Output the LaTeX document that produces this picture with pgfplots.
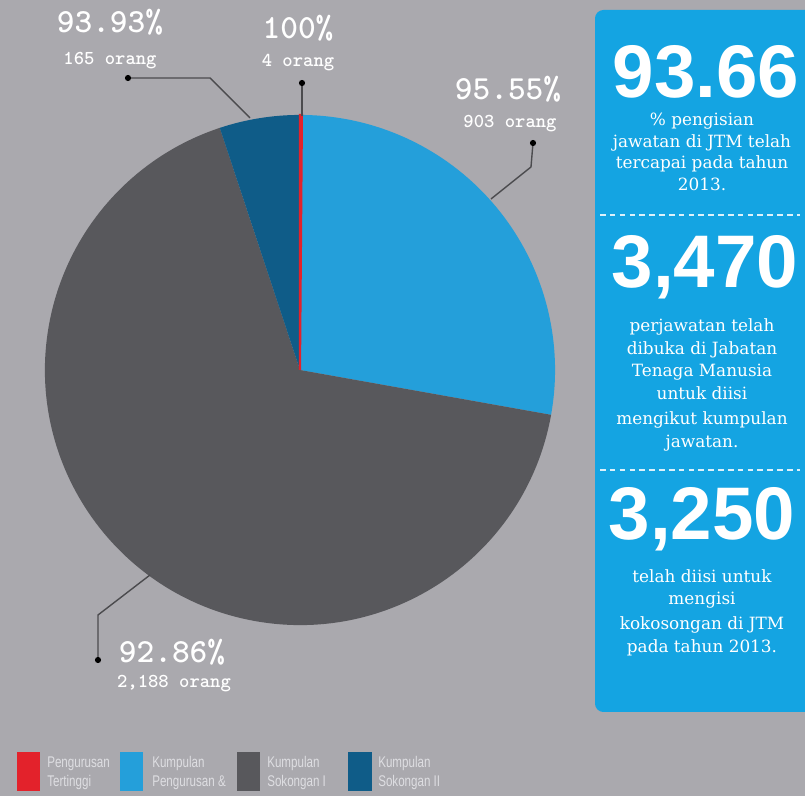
\documentclass[border=0pt]{standalone}
\usepackage{pgfplots}
\pgfplotsset{compat=1.18}
\usepackage{pgfplotstable}
\usepackage{fontspec}
\setmainfont{DejaVu Serif}
\newfontfamily\numfont{Liberation Sans}
\newfontfamily\legfont{Liberation Sans}[FakeStretch=0.75]
\newfontfamily\lblfont{lmmonolt10-bold.otf}

\definecolor{bg}{RGB}{170,169,174}
\definecolor{panel}{RGB}{20,164,226}
\definecolor{pieRed}{RGB}{227,34,43}
\definecolor{pieBlue}{RGB}{36,159,218}
\definecolor{pieGray}{RGB}{88,88,92}
\definecolor{pieNavy}{RGB}{15,92,136}
\definecolor{leader}{RGB}{75,75,78}
\definecolor{legtext}{RGB}{222,222,226}

\begin{document}
\begin{tikzpicture}
% people per group (orang)
\pgfplotstableread{
name value
PT 4
PP 903
S1 2188
S2 166
}\piedata
\pgfplotstablegetelem{0}{value}\of\piedata\let\vA\pgfplotsretval
\pgfplotstablegetelem{1}{value}\of\piedata\let\vB\pgfplotsretval
\pgfplotstablegetelem{2}{value}\of\piedata\let\vC\pgfplotsretval
\pgfplotstablegetelem{3}{value}\of\piedata\let\vD\pgfplotsretval
\pgfmathsetmacro\tot{\vA+\vB+\vC+\vD}
\pgfmathsetmacro\aA{90}
\pgfmathsetmacro\aB{\aA-360*(\vA/\tot)}
\pgfmathsetmacro\aC{\aB-360*(\vB/\tot)}
\pgfmathsetmacro\aD{\aC-360*(\vC/\tot)}
\pgfmathsetmacro\aE{\aD-360*(\vD/\tot)}
\def\R{6.375cm}
\begin{axis}[
    x=0.025cm, y=0.025cm,
    xmin=0, xmax=805, ymin=0, ymax=796,
    hide axis, clip=false,
]
\fill[bg] (axis cs:0,0) rectangle (axis cs:805,796);
\fill[panel, rounded corners=6pt] (axis cs:595,84) rectangle (axis cs:840,786);

% pie slices, clockwise from the top
\fill[pieBlue] (axis cs:300,426) -- ++(\aB:\R) arc[start angle=\aB, end angle=\aC, radius=\R] -- cycle;
\fill[pieGray] (axis cs:300,426) -- ++(\aC:\R) arc[start angle=\aC, end angle=\aD, radius=\R] -- cycle;
\fill[pieNavy] (axis cs:300,426) -- ++(\aD:\R) arc[start angle=\aD, end angle=\aE, radius=\R] -- cycle;
\filldraw[pieRed, line width=1.5pt, line join=miter] (axis cs:300,426) -- ++(\aA:\R) arc[start angle=\aA, end angle=\aB, radius=\R] -- cycle;

% leader lines
\draw[leader, line width=1pt] (axis cs:128,718) -- (axis cs:210,718) -- (axis cs:250,678);
\draw[leader, line width=1pt] (axis cs:302,713) -- (axis cs:302,680);
\draw[leader, line width=1pt] (axis cs:533,653) -- (axis cs:531,629) -- (axis cs:491,597);
\draw[leader, line width=1pt] (axis cs:98,136) -- (axis cs:98,181) -- (axis cs:150,221);
\fill[black] (axis cs:128,718) circle[radius=2.2pt];
\fill[black] (axis cs:302,713) circle[radius=2.2pt];
\fill[black] (axis cs:533,653) circle[radius=2.2pt];
\fill[black] (axis cs:98,136) circle[radius=2.2pt];

% pie labels
\node[white, font=\lblfont\fontsize{24}{24}\selectfont] at (axis cs:110,774) {93.93\%};
\node[white, font=\lblfont\fontsize{14}{14}\selectfont, anchor=base] at (axis cs:110,731) {165 orang};
\node[white, font=\lblfont\fontsize{24}{24}\selectfont] at (axis cs:298,768) {100\%};
\node[white, font=\lblfont\fontsize{14}{14}\selectfont, anchor=base] at (axis cs:298,729) {4 orang};
\node[white, font=\lblfont\fontsize{24}{24}\selectfont] at (axis cs:508,707) {95.55\%};
\node[white, font=\lblfont\fontsize{14}{14}\selectfont, anchor=base] at (axis cs:510,668) {903 orang};
\node[white, font=\lblfont\fontsize{24}{24}\selectfont] at (axis cs:172,144) {92.86\%};
\node[white, font=\lblfont\fontsize{14}{14}\selectfont, anchor=base] at (axis cs:174,108) {2,188 orang};

% right panel
\node[white, font=\numfont\bfseries\fontsize{53}{53}\selectfont, anchor=base, inner sep=0pt] at (axis cs:706,698) {93.66};
\node[white, font=\fontsize{12}{15}\selectfont, anchor=base] at (axis cs:702,670) {\% pengisian};
\node[white, font=\fontsize{12}{15}\selectfont, anchor=base] at (axis cs:702,648) {jawatan di JTM telah};
\node[white, font=\fontsize{12}{15}\selectfont, anchor=base] at (axis cs:702,627) {tercapai pada tahun};
\node[white, font=\fontsize{12}{15}\selectfont, anchor=base] at (axis cs:702,605) {2013.};
\draw[white!85!panel, line width=1.5pt, dash pattern=on 4pt off 3pt] (axis cs:600,581) -- (axis cs:800,581);

\node[white, font=\numfont\bfseries\fontsize{53}{53}\selectfont, anchor=base, inner sep=0pt] at (axis cs:705,508) {3,470};
\node[white, font=\fontsize{12}{15}\selectfont, anchor=base] at (axis cs:702,464) {perjawatan telah};
\node[white, font=\fontsize{12}{15}\selectfont, anchor=base] at (axis cs:702,441) {dibuka di Jabatan};
\node[white, font=\fontsize{12}{15}\selectfont, anchor=base] at (axis cs:702,419) {Tenaga Manusia};
\node[white, font=\fontsize{12}{15}\selectfont, anchor=base] at (axis cs:702,396) {untuk diisi};
\node[white, font=\fontsize{12}{15}\selectfont, anchor=base] at (axis cs:702,371) {mengikut kumpulan};
\node[white, font=\fontsize{12}{15}\selectfont, anchor=base] at (axis cs:702,348) {jawatan.};
\draw[white!85!panel, line width=1.5pt, dash pattern=on 4pt off 3pt] (axis cs:600,326) -- (axis cs:800,326);

\node[white, font=\numfont\bfseries\fontsize{53}{53}\selectfont, anchor=base, inner sep=0pt] at (axis cs:702,256) {3,250};
\node[white, font=\fontsize{12}{15}\selectfont, anchor=base] at (axis cs:702,213) {telah diisi untuk};
\node[white, font=\fontsize{12}{15}\selectfont, anchor=base] at (axis cs:702,191) {mengisi};
\node[white, font=\fontsize{12}{15}\selectfont, anchor=base] at (axis cs:702,166) {kokosongan di JTM};
\node[white, font=\fontsize{12}{15}\selectfont, anchor=base] at (axis cs:702,143) {pada tahun 2013.};

% legend
\fill[pieRed] (axis cs:17,5) rectangle (axis cs:40,44);
\fill[pieBlue] (axis cs:120,5) rectangle (axis cs:143,44);
\fill[pieGray] (axis cs:237,5) rectangle (axis cs:260,44);
\fill[pieNavy] (axis cs:348,5) rectangle (axis cs:372,44);
\node[legtext, font=\legfont\fontsize{11}{11}\selectfont, anchor=base west, inner sep=0pt] at (axis cs:47,28) {Pengurusan};
\node[legtext, font=\legfont\fontsize{11}{11}\selectfont, anchor=base west, inner sep=0pt] at (axis cs:47,9) {Tertinggi};
\node[legtext, font=\legfont\fontsize{11}{11}\selectfont, anchor=base west, inner sep=0pt] at (axis cs:152,28) {Kumpulan};
\node[legtext, font=\legfont\fontsize{11}{11}\selectfont, anchor=base west, inner sep=0pt] at (axis cs:152,9) {Pengurusan \&};
\node[legtext, font=\legfont\fontsize{11}{11}\selectfont, anchor=base west, inner sep=0pt] at (axis cs:267,28) {Kumpulan};
\node[legtext, font=\legfont\fontsize{11}{11}\selectfont, anchor=base west, inner sep=0pt] at (axis cs:267,9) {Sokongan I};
\node[legtext, font=\legfont\fontsize{11}{11}\selectfont, anchor=base west, inner sep=0pt] at (axis cs:378,28) {Kumpulan};
\node[legtext, font=\legfont\fontsize{11}{11}\selectfont, anchor=base west, inner sep=0pt] at (axis cs:378,9) {Sokongan II};
\end{axis}
\pgfresetboundingbox
\path[use as bounding box] (current axis.south west) rectangle (current axis.north east);
\end{tikzpicture}
\end{document}
